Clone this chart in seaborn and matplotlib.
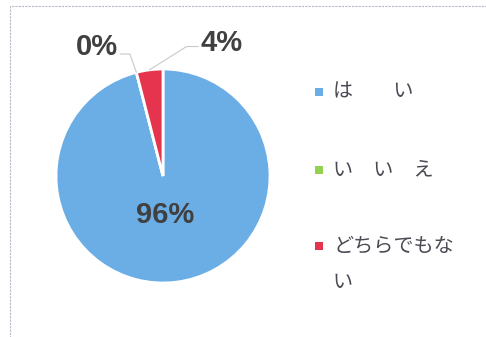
import matplotlib
matplotlib.use("Agg")
import matplotlib.pyplot as plt
import seaborn as sns
from matplotlib.patches import Rectangle
import numpy as np

categories = ["は　　い", "い　い　え", "どちらでもない"]
legend_lines = ["は　　い", "い　い　え", "どちらでもな\nい"]
values = [96, 0, 4]
pct_labels = ["96%", "0%", "4%"]
colors = ["#6BAEE6", "#92D050", "#E6344F"]

sns.set_theme(style="white")
plt.rcParams['font.family'] = ['Noto Sans CJK JP', 'DejaVu Sans']

W, H = 486, 337
fig = plt.figure(figsize=(W / 100, H / 100), dpi=100)
fig.patch.set_facecolor("white")

# outer border (top & left visible)
fig.patches.append(Rectangle((10 / W, -0.1), 1.2, (H - 6) / H + 0.1,
                             transform=fig.transFigure, fill=False,
                             edgecolor="#b8b8c8", linewidth=0.8,
                             linestyle=(0, (2, 1))))

R = 107
cx, cy = 163, 176
ax = fig.add_axes([(cx - 1.5 * R) / W, (H - cy - 1.5 * R) / H, 3 * R / W, 3 * R / H])

wedges, _ = ax.pie(values, colors=colors, startangle=90, counterclock=False,
                   radius=1, wedgeprops=dict(edgecolor="white", linewidth=2))
ax.set_xlim(-1.5, 1.5)
ax.set_ylim(-1.5, 1.5)
ax.set_aspect("equal")
ax.axis("off")

lab_col = "#404040"
lab_font = dict(fontsize=21, fontweight="bold", color=lab_col,
                family=["Liberation Sans", "DejaVu Sans"], ha="center", va="center")

# big slice label inside
ax.text(0.02, -0.36, pct_labels[0], **lab_font)

line_kw = dict(color="#c8c8d0", lw=0.8)

# 0% slice: label with bent leader
w1 = wedges[1]
a1 = np.deg2rad(w1.theta1)
p1 = (np.cos(a1), np.sin(a1))
ax.text(-0.62, 1.21, pct_labels[1], **lab_font)
ax.plot([-0.40, -0.31, p1[0]], [1.14, 1.14, p1[1]], **line_kw)

# 4% slice: label with bent leader
w2 = wedges[2]
a2 = np.deg2rad((w2.theta1 + w2.theta2) / 2)
p2 = (np.cos(a2), np.sin(a2))
ax.text(0.55, 1.24, pct_labels[2], **lab_font)
ax.plot([0.33, 0.22, p2[0]], [1.21, 1.21, p2[1]], **line_kw)

# legend
rows_y = [92, 170, 246]
leg_font = dict(fontsize=14.5, color="#4a4a55", ha="left", va="center")
for lab, col, y in zip(legend_lines, colors, rows_y):
    fig.patches.append(Rectangle((315 / W, (H - y - 4) / H), 8 / W, 8 / H,
                                 transform=fig.transFigure, facecolor=col,
                                 edgecolor="none"))
    parts = lab.split("\n")
    fig.text(333 / W, (H - y) / H, parts[0], **leg_font)
    if len(parts) > 1:
        fig.text(333 / W, (H - y - 37) / H, parts[1], **leg_font)

fig.savefig("out.png", dpi=100, facecolor="white")
